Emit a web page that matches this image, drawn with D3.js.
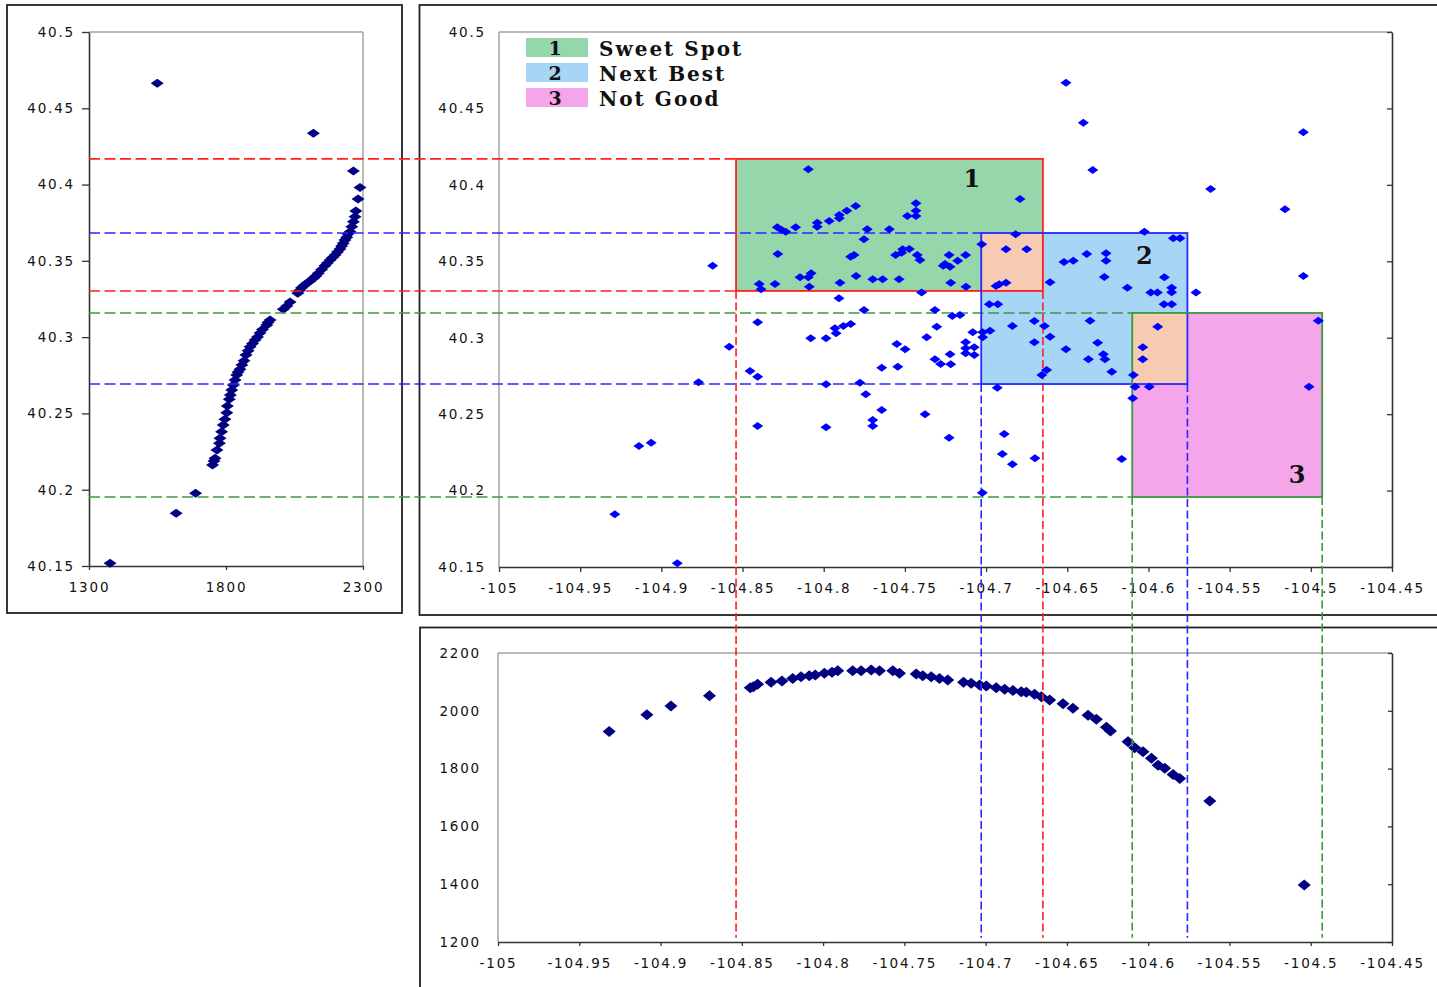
<!DOCTYPE html>
<html>
<head>
<meta charset="utf-8">
<script src="https://cdn.jsdelivr.net/npm/d3@7"></script>
<style>
  html, body { margin: 0; padding: 0; background: #fff; }
  svg { display: block; }
  .tick text { font-family: "DejaVu Sans", Verdana, sans-serif; font-size: 13.5px; letter-spacing: 1.8px; fill: #111; }
  .legend-text { font-family: "DejaVu Serif", serif; font-weight: bold; font-size: 20px; letter-spacing: 2px; fill: #111; }
  .legend-num { font-family: "DejaVu Serif", serif; font-weight: bold; font-size: 19px; fill: #111; }
  .zone-num { font-family: "DejaVu Serif", serif; font-weight: bold; font-size: 24px; fill: #111; }
</style>
</head>
<body>
<svg id="chart" width="1437" height="987"></svg>
<script>
// ---- Axis ticks ----
const latTicks = [40.15, 40.2, 40.25, 40.3, 40.35, 40.4, 40.45, 40.5];
const elevTicksSide = [1300, 1800, 2300];
const lonTicks = [-105, -104.95, -104.9, -104.85, -104.8, -104.75, -104.7, -104.65, -104.6, -104.55, -104.5, -104.45];
const elevTicksBottom = [1200, 1400, 1600, 1800, 2000, 2200];

// ---- Zones (longitude / latitude bounds) ----
const zoneIds = ["1", "2", "3"];
const zoneNames = ["Sweet Spot", "Next Best", "Not Good"];
const zoneWest = [-104.854, -104.703, -104.610];
const zoneEast = [-104.665, -104.576, -104.493];
const zoneSouth = [40.3306, 40.2697, 40.1958];
const zoneNorth = [40.4170, 40.3685, 40.3162];
const zoneFill = ["#96d6ab", "#a7d5f5", "#f5a6eb"];
const zoneStroke = ["#ff1f1f", "#2727ff", "#3a9a3a"];
const overlapFill = "#f6cbb2";

// ---- Well locations: [longitude, latitude] ----
const wells = [
  [-104.8095,40.4102],[-104.6791,40.3907],[-104.7432,40.3879],[-104.7432,40.3831],[-104.7432,40.3796],
  [-104.7485,40.3796],[-104.7803,40.3862],[-104.7858,40.3831],[-104.7904,40.3803],[-104.7904,40.3781],
  [-104.7966,40.3764],[-104.8040,40.3752],[-104.8040,40.3726],[-104.8173,40.3722],[-104.8286,40.3722],
  [-104.8259,40.3705],[-104.8234,40.3694],[-104.7732,40.3709],[-104.7596,40.3709],[-104.7752,40.3644],
  [-104.6818,40.3677],[-104.7027,40.3611],[-104.6877,40.3578],[-104.6750,40.3578],[-104.8283,40.3548],
  [-104.7834,40.3530],[-104.7813,40.3541],[-104.7557,40.3541],[-104.7520,40.3556],[-104.7473,40.3580],
  [-104.7514,40.3578],[-104.7424,40.3541],[-104.7407,40.3508],[-104.7228,40.3541],[-104.7126,40.3541],
  [-104.7175,40.3504],[-104.7264,40.3471],[-104.7222,40.3465],[-104.7253,40.3482],[-104.8684,40.3471],
  [-104.8146,40.3395],[-104.8095,40.3395],[-104.8078,40.3421],[-104.7801,40.3404],[-104.7698,40.3382],
  [-104.7637,40.3382],[-104.7536,40.3382],[-104.8300,40.3351],[-104.8397,40.3351],[-104.8386,40.3317],
  [-104.8089,40.3334],[-104.7900,40.3360],[-104.7218,40.3360],[-104.7124,40.3334],[-104.6939,40.3338],
  [-104.6919,40.3349],[-104.6877,40.3360],[-104.6606,40.3363],[-104.7397,40.3295],[-104.7906,40.3258],
  [-104.6980,40.3219],[-104.6928,40.3219],[-104.7752,40.3181],[-104.7315,40.3181],[-104.7208,40.3142],
  [-104.7161,40.3149],[-104.8407,40.3101],[-104.6703,40.3109],[-104.6641,40.3077],[-104.6606,40.3007],
  [-104.6838,40.3077],[-104.7834,40.3090],[-104.7879,40.3077],[-104.7931,40.3062],[-104.7924,40.3029],
  [-104.8080,40.2996],[-104.7986,40.2996],[-104.8582,40.2941],[-104.7550,40.2959],[-104.7499,40.2924],
  [-104.7366,40.3003],[-104.7304,40.3072],[-104.7082,40.3035],[-104.7021,40.3035],[-104.6976,40.3046],
  [-104.7021,40.3003],[-104.7126,40.2970],[-104.7126,40.2931],[-104.7126,40.2898],[-104.7073,40.2937],
  [-104.7073,40.2887],[-104.6703,40.2970],[-104.7222,40.2892],[-104.7218,40.2826],[-104.7315,40.2859],
  [-104.7280,40.2828],[-104.8454,40.2782],[-104.8407,40.2745],[-104.7643,40.2804],[-104.7544,40.2810],
  [-104.6627,40.2789],[-104.6657,40.2756],[-104.7986,40.2695],[-104.7777,40.2706],[-104.7741,40.2630],
  [-104.6931,40.2673],[-104.7643,40.2527],[-104.7698,40.2462],[-104.7698,40.2422],[-104.8407,40.2422],
  [-104.7986,40.2414],[-104.7376,40.2499],[-104.7228,40.2346],[-104.6888,40.2370],[-104.6900,40.2239],
  [-104.6699,40.2211],[-104.6508,40.4668],[-104.6401,40.4407],[-104.6343,40.4097],[-104.5046,40.4344],
  [-104.5617,40.3973],[-104.5159,40.3840],[-104.6025,40.3694],[-104.5847,40.3650],[-104.5806,40.3650],
  [-104.6520,40.3495],[-104.6463,40.3504],[-104.6380,40.3548],[-104.6261,40.3552],[-104.6261,40.3504],
  [-104.6272,40.3397],[-104.6130,40.3327],[-104.5902,40.3395],[-104.5857,40.3327],[-104.5857,40.3297],
  [-104.5986,40.3295],[-104.5945,40.3295],[-104.5707,40.3295],[-104.5046,40.3404],[-104.5904,40.3219],
  [-104.5857,40.3219],[-104.4954,40.3111],[-104.6360,40.3111],[-104.5943,40.3072],[-104.6313,40.2967],
  [-104.6508,40.2924],[-104.6370,40.2859],[-104.6278,40.2892],[-104.6268,40.2859],[-104.6226,40.2778],
  [-104.6035,40.2937],[-104.6035,40.2859],[-104.6093,40.2756],[-104.6083,40.2680],[-104.5995,40.2680],
  [-104.6097,40.2604],[-104.5011,40.2680],[-104.6838,40.2172],[-104.6165,40.2207],[-104.7023,40.1986],
  [-104.8771,40.2708],[-104.9138,40.2292],[-104.9063,40.2313],[-104.9287,40.1845],[-104.8902,40.1524]
];

// ---- Elevation by latitude: [elevation, latitude] ----
const latProfile = [
  [1549,40.4664],[2119,40.4336],[2265,40.4089],[2289,40.3981],[2282,40.3905],[2274,40.3827],[2271,40.3789],
  [2265,40.3757],[2259,40.3724],[2253,40.3691],[2245,40.3676],[2241,40.3654],[2234,40.3637],[2228,40.3615],
  [2222,40.3597],[2216,40.3578],[2207,40.3558],[2198,40.3538],[2189,40.3522],[2180,40.3506],[2170,40.3486],
  [2161,40.3468],[2149,40.3443],[2137,40.3418],[2128,40.3401],[2119,40.3386],[2107,40.3368],[2095,40.3353],
  [2085,40.3338],[2076,40.3324],[2068,40.3306],[2062,40.3287],[2034,40.3230],[2022,40.3204],[2009,40.3182],
  [1961,40.3112],[1953,40.3096],[1949,40.3080],[1933,40.3050],[1924,40.3027],[1915,40.3001],[1906,40.2981],
  [1897,40.2958],[1888,40.2937],[1881,40.2911],[1873,40.2883],[1866,40.2846],[1858,40.2817],[1851,40.2789],
  [1844,40.2772],[1839,40.2752],[1833,40.2719],[1827,40.2686],[1821,40.2654],[1816,40.2621],[1812,40.2593],
  [1805,40.2549],[1803,40.2505],[1796,40.2462],[1790,40.2424],[1784,40.2380],[1778,40.2337],[1776,40.2304],
  [1767,40.2260],[1760,40.2206],[1756,40.2188],[1751,40.2162],[1689,40.1977],[1618,40.1846],[1377,40.1518]
];

// ---- Elevation by longitude: [longitude, elevation] ----
const lonProfile = [
  [-104.9316,1928],[-104.9084,1986],[-104.8936,2017],[-104.8699,2052],[-104.8448,2080],[-104.8429,2083],
  [-104.8403,2092],[-104.8320,2099],[-104.8253,2103],[-104.8187,2112],[-104.8136,2118],[-104.8085,2121],
  [-104.8048,2124],[-104.7992,2130],[-104.7945,2133],[-104.7910,2139],[-104.7818,2139],[-104.7766,2139],
  [-104.7704,2141],[-104.7653,2139],[-104.7571,2139],[-104.7530,2130],[-104.7427,2127],[-104.7387,2121],
  [-104.7335,2118],[-104.7284,2112],[-104.7233,2107],[-104.7136,2099],[-104.7089,2095],[-104.7037,2089],
  [-104.6996,2086],[-104.6935,2080],[-104.6883,2075],[-104.6832,2070],[-104.6781,2066],[-104.6750,2064],
  [-104.6699,2057],[-104.6657,2049],[-104.6606,2037],[-104.6524,2024],[-104.6463,2009],[-104.6370,1985],
  [-104.6319,1971],[-104.6257,1943],[-104.6232,1930],[-104.6124,1893],[-104.6083,1872],[-104.6032,1858],
  [-104.5980,1836],[-104.5939,1812],[-104.5898,1801],[-104.5847,1780],[-104.5806,1766],[-104.5621,1688],
  [-104.5040,1397]
];

// ---- Scales ----
const sideX = d3.scaleLinear().domain([1300, 2300]).range([89, 363]);
const sideY = d3.scaleLinear().domain([40.15, 40.5]).range([566, 32]);
const mapX = d3.scaleLinear().domain([-105, -104.45]).range([499, 1392]);
const mapY = d3.scaleLinear().domain([40.15, 40.5]).range([567, 32]);
const botX = d3.scaleLinear().domain([-105, -104.45]).range([498, 1392]);
const botY = d3.scaleLinear().domain([1200, 2200]).range([942, 653]);

const svg = d3.select("#chart");
svg.append("rect").attr("width", 1437).attr("height", 987).attr("fill", "#fff");

// ---- Panel frames ----
const frameStroke = "#222";
svg.append("rect").attr("x", 7).attr("y", 5).attr("width", 395).attr("height", 608)
  .attr("fill", "none").attr("stroke", frameStroke).attr("stroke-width", 1.8);
svg.append("rect").attr("x", 419.5).attr("y", 5).attr("width", 1100).attr("height", 610)
  .attr("fill", "none").attr("stroke", frameStroke).attr("stroke-width", 1.8);
svg.append("rect").attr("x", 420).attr("y", 627.5).attr("width", 1100).attr("height", 400)
  .attr("fill", "none").attr("stroke", frameStroke).attr("stroke-width", 1.8);

// ---- Plot area borders (light) ----
const grey = "#a3a3a3";
function line(x1, y1, x2, y2, color, w) {
  return svg.append("line").attr("x1", x1).attr("y1", y1).attr("x2", x2).attr("y2", y2)
    .attr("stroke", color).attr("stroke-width", w);
}
line(sideX.range()[0], sideY.range()[1], sideX.range()[1], sideY.range()[1], grey, 1.5);
line(sideX.range()[1], sideY.range()[1], sideX.range()[1], sideY.range()[0], grey, 1.5);
line(mapX.range()[0], mapY.range()[1], mapX.range()[1], mapY.range()[1], grey, 1.5);
line(mapX.range()[0], mapY.range()[1], mapX.range()[0], mapY.range()[0], grey, 1.5);
line(botX.range()[0], botY.range()[1], botX.range()[1], botY.range()[1], grey, 1.5);
line(botX.range()[0], botY.range()[1], botX.range()[0], botY.range()[0], grey, 1.5);

// ---- Axes ----
const fmt = d => String(d);
function styleAxis(g, keepDomain) {
  g.select(".domain").attr("stroke", keepDomain ? "#333" : "none").attr("stroke-width", 1.6);
  g.selectAll(".tick line").attr("stroke", "#333").attr("stroke-width", 1.3);
  g.selectAll(".tick text").attr("font-family", null).attr("font-size", null).attr("fill", null);
  g.attr("font-family", null).attr("font-size", null);
}

// side panel
svg.append("g").attr("transform", `translate(${sideX.range()[0]},0)`)
  .call(d3.axisLeft(sideY).tickValues(latTicks).tickFormat(fmt).tickSize(7).tickSizeOuter(0).tickPadding(7))
  .call(g => styleAxis(g, true));
svg.append("g").attr("transform", `translate(0,${sideY.range()[0]})`)
  .call(d3.axisBottom(sideX).tickValues(elevTicksSide).tickFormat(fmt).tickSize(4).tickSizeOuter(0).tickPadding(12))
  .call(g => styleAxis(g, true));

// map panel
svg.append("g").attr("transform", `translate(0,${mapY.range()[0]})`)
  .call(d3.axisBottom(mapX).tickValues(lonTicks).tickFormat(fmt).tickSize(5).tickSizeOuter(0).tickPadding(11))
  .call(g => styleAxis(g, true));
svg.append("g").attr("transform", `translate(${mapX.range()[1]},0)`)
  .call(d3.axisRight(mapY).tickValues(latTicks).tickFormat(() => "").tickSize(-5).tickSizeOuter(0))
  .call(g => styleAxis(g, true));
svg.append("g").attr("transform", `translate(${mapX.range()[0]},0)`)
  .call(d3.axisLeft(mapY).tickValues(latTicks).tickFormat(fmt).tickSize(0).tickPadding(13))
  .call(g => styleAxis(g, false));

// bottom panel
svg.append("g").attr("transform", `translate(0,${botY.range()[0]})`)
  .call(d3.axisBottom(botX).tickValues(lonTicks).tickFormat(fmt).tickSize(4).tickSizeOuter(0).tickPadding(12))
  .call(g => styleAxis(g, true));
svg.append("g").attr("transform", `translate(${botX.range()[1]},0)`)
  .call(d3.axisRight(botY).tickValues(elevTicksBottom).tickFormat(() => "").tickSize(-4).tickSizeOuter(0))
  .call(g => styleAxis(g, true));
svg.append("g").attr("transform", `translate(${botX.range()[0]},0)`)
  .call(d3.axisLeft(botY).tickValues(elevTicksBottom).tickFormat(fmt).tickSize(0).tickPadding(17))
  .call(g => styleAxis(g, false));

// ---- Zone fills ----
const zones = zoneIds.map((id, i) => ({
  id, name: zoneNames[i],
  x0: mapX(zoneWest[i]), x1: mapX(zoneEast[i]),
  y0: mapY(zoneNorth[i]), y1: mapY(zoneSouth[i]),
  fill: zoneFill[i], stroke: zoneStroke[i]
}));
const zoneLayer = svg.append("g");
zoneLayer.selectAll("rect.zone").data(zones).join("rect").attr("class", "zone")
  .attr("x", d => d.x0).attr("y", d => d.y0)
  .attr("width", d => d.x1 - d.x0).attr("height", d => d.y1 - d.y0)
  .attr("fill", d => d.fill);

// overlaps between consecutive zones
const overlaps = [];
for (let i = 0; i < zones.length - 1; i++) {
  const a = zones[i], b = zones[i + 1];
  const x0 = Math.max(a.x0, b.x0), x1 = Math.min(a.x1, b.x1);
  const y0 = Math.max(a.y0, b.y0), y1 = Math.min(a.y1, b.y1);
  if (x1 > x0 && y1 > y0) overlaps.push({ x0, x1, y0, y1 });
}
zoneLayer.selectAll("rect.overlap").data(overlaps).join("rect").attr("class", "overlap")
  .attr("x", d => d.x0).attr("y", d => d.y0)
  .attr("width", d => d.x1 - d.x0).attr("height", d => d.y1 - d.y0)
  .attr("fill", overlapFill);

// ---- Points ----
function diamond(w, h) {
  return `M0,${-h / 2}L${w / 2},0L0,${h / 2}L${-w / 2},0Z`;
}
svg.append("g").selectAll("path").data(latProfile).join("path")
  .attr("d", diamond(13, 9)).attr("fill", "#000080")
  .attr("transform", d => `translate(${sideX(d[0])},${sideY(d[1])})`);
svg.append("g").selectAll("path").data(lonProfile).join("path")
  .attr("d", diamond(13, 11)).attr("fill", "#000080")
  .attr("transform", d => `translate(${botX(d[0])},${botY(d[1])})`);

// ---- Guide lines from the zones ----
const guides = svg.append("g").attr("fill", "none").attr("stroke-width", 1.6);
zones.forEach((z, i) => {
  [z.y0, z.y1].forEach(y => {
    guides.append("line").attr("x1", sideX(1300)).attr("x2", z.x0).attr("y1", y).attr("y2", y)
      .attr("stroke", z.stroke).attr("stroke-dasharray", "11,4.5");
  });
  [z.x0, z.x1].forEach(x => {
    guides.append("line").attr("x1", x).attr("x2", x).attr("y1", z.y1).attr("y2", botY(1215))
      .attr("stroke", z.stroke).attr("stroke-dasharray", "8,3.5");
  });
});

// ---- Zone borders ----
svg.append("g").selectAll("rect").data(zones).join("rect")
  .attr("x", d => d.x0).attr("y", d => d.y0)
  .attr("width", d => d.x1 - d.x0).attr("height", d => d.y1 - d.y0)
  .attr("fill", "none").attr("stroke", d => d.stroke).attr("stroke-width", 1.8);

// ---- Wells on the map ----
svg.append("g").selectAll("path").data(wells).join("path")
  .attr("d", diamond(11, 8)).attr("fill", "#0000ff")
  .attr("transform", d => `translate(${mapX(d[0])},${mapY(d[1])})`);

// ---- Zone numbers ----
const zl = svg.append("g").attr("class", "zone-num").attr("text-anchor", "middle");
zl.append("text").attr("x", zones[0].x1 - 71).attr("y", zones[0].y0 + 28).text(zones[0].id);
zl.append("text").attr("x", zones[1].x1 - 43).attr("y", zones[1].y0 + 31).text(zones[1].id);
zl.append("text").attr("x", zones[2].x1 - 25).attr("y", zones[2].y1 - 14).text(zones[2].id);

// ---- Legend ----
const legend = svg.append("g").attr("transform", "translate(526,38)");
const rows = legend.selectAll("g").data(zones).join("g")
  .attr("transform", (d, i) => `translate(0,${i * 25})`);
rows.append("rect").attr("width", 62).attr("height", 19).attr("fill", d => d.fill);
rows.append("text").attr("class", "legend-num").attr("x", 29).attr("y", 17)
  .attr("text-anchor", "middle").text(d => d.id);
rows.append("text").attr("class", "legend-text").attr("x", 73).attr("y", 18).text(d => d.name);
</script>
</body>
</html>
